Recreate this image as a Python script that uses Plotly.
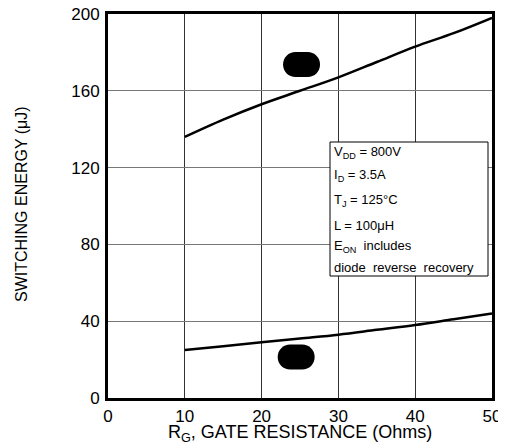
import plotly.graph_objects as go

# Data
rg = [10, 15, 20, 25, 30, 35, 40, 45, 50]
e_upper = [136, 145, 153, 160, 167, 175, 183, 190, 198]
e_lower = [25, 27, 29, 31, 33, 35.5, 38, 41, 44]

# Label blob centres (data coordinates)
blob_x = [25.2, 24.5]
blob_y = [173.7, 21.3]

x_ticks = [0, 10, 20, 30, 40, 50]
y_ticks = [0, 40, 80, 120, 160, 200]

cond_lines = [
    "V<sub>DD</sub> = 800V",
    "I<sub>D</sub> = 3.5A",
    "T<sub>J</sub> = 125°C",
    "L = 100μH",
    "E<sub>ON</sub>\u00a0 includes",
    "diode\u00a0 reverse\u00a0 recovery",
]

FONT = "Liberation Sans, Arial, sans-serif"

fig = go.Figure()
for ys in (e_upper, e_lower):
    fig.add_trace(go.Scatter(x=rg, y=ys, mode="lines",
                             line=dict(color="black", width=2.5, shape="spline"),
                             showlegend=False, hoverinfo="skip"))

OFF = 8  # page body margin
W, H = 506 - OFF, 443 - OFF
L, R, T, B = 100, 14, 6, 45
pw, ph = W - L - R, H - T - B

def px_to_paper(x, y):
    # page pixel -> paper coordinate
    x -= OFF
    y -= OFF
    return (x - L) / pw, (H - B - y) / ph

shapes = []
path = ("M -6,-12.5 L 6,-12.5 C 13,-12.5 18.5,-7 18.5,0 C 18.5,7 13,12.5 6,12.5 "
        "L -6,12.5 C -13,12.5 -18.5,7 -18.5,0 C -18.5,-7 -13,-12.5 -6,-12.5 Z")
for bx, by in zip(blob_x, blob_y):
    shapes.append(dict(type="path", xref="x", yref="y", xsizemode="pixel", ysizemode="pixel",
                       xanchor=bx, yanchor=by, path=path, fillcolor="black",
                       line=dict(color="black", width=0)))
bx0, by0 = px_to_paper(330, 276)
bx1, by1 = px_to_paper(488, 142)
shapes.append(dict(type="rect", xref="paper", yref="paper", x0=bx0, y0=by0, x1=bx1, y1=by1,
                   fillcolor="white", line=dict(color="black", width=1), layer="above"))

annotations = []
line_y = [152, 175, 200, 226, 247, 267]
for txt, ly in zip(cond_lines, line_y):
    ax, ay = px_to_paper(332, ly)
    annotations.append(dict(x=ax, y=ay, xref="paper", yref="paper", text=txt,
                            showarrow=False, xanchor="left", yanchor="middle",
                            font=dict(family=FONT, size=13, color="black")))

tx, ty = px_to_paper(300, 433)
annotations.append(dict(x=tx, y=ty, xref="paper", yref="paper",
                        text="R<sub>G</sub>, GATE RESISTANCE (Ohms)", showarrow=False,
                        xanchor="center", yanchor="middle",
                        font=dict(family=FONT, size=18, color="black")))
tx, ty = px_to_paper(21, 204)
annotations.append(dict(x=tx, y=ty, xref="paper", yref="paper",
                        text="SWITCHING ENERGY (μJ)", showarrow=False, textangle=-90,
                        xanchor="center", yanchor="middle",
                        font=dict(family=FONT, size=16, color="black")))

fig.update_layout(
    width=W, height=H,
    margin=dict(l=L, r=R, t=T, b=B, autoexpand=False),
    paper_bgcolor="white", plot_bgcolor="white",
    shapes=shapes, annotations=annotations,
    xaxis=dict(range=[0, 50], tickvals=x_ticks, ticktext=[str(v) for v in x_ticks],
               showgrid=True, gridcolor="#333", gridwidth=1, zeroline=False,
               showline=True, linecolor="black", linewidth=3, mirror=True,
               automargin=False, ticks="", ticklabelstandoff=1,
               ticklabeloverflow="allow",
               tickfont=dict(family=FONT, size=17, color="black")),
    yaxis=dict(range=[0, 200], tickvals=y_ticks, ticktext=[str(v) for v in y_ticks],
               showgrid=True, gridcolor="#777", gridwidth=1, zeroline=False,
               showline=True, linecolor="black", linewidth=3, mirror=True,
               automargin=False, ticks="", ticklabelstandoff=2,
               ticklabeloverflow="allow",
               tickfont=dict(family=FONT, size=17, color="black")),
)

fig.write_html("out.html")
